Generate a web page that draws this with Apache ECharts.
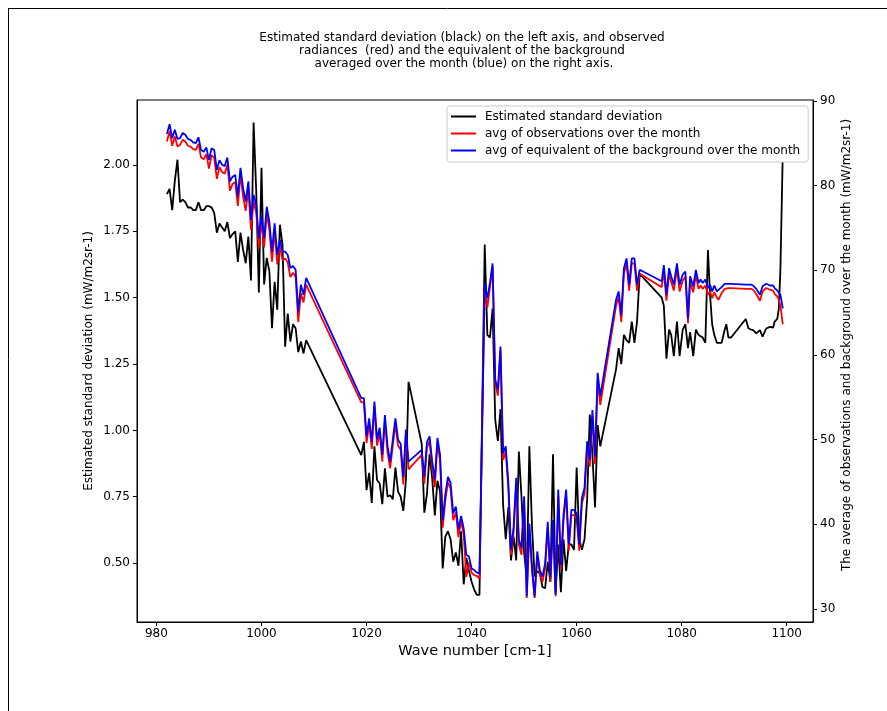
<!DOCTYPE html>
<html><head><meta charset="utf-8">
<script src="https://cdn.jsdelivr.net/npm/echarts@6/dist/echarts.min.js"></script>
<style>html,body{margin:0;padding:0;background:#fff}#c{width:887px;height:711px}</style>
</head><body><div id="c"></div>
<script>
// Wave numbers (cm-1) of the plotted channels
const wavenumber = [
  982.0, 982.5, 983.0, 983.5, 984.0, 984.5, 985.0, 985.5, 986.0, 986.5,
  987.0, 987.5, 988.0, 988.5, 989.0, 989.5, 990.0, 990.5, 991.0, 991.5,
  992.0, 992.5, 993.0, 993.5, 994.0, 994.5, 995.0, 995.5, 996.0, 996.5,
  997.0, 997.5, 998.0, 998.5, 999.0, 999.5, 1000.0, 1000.5, 1001.0, 1001.5,
  1002.0, 1002.5, 1003.0, 1003.5, 1004.0, 1004.5, 1005.0, 1005.5, 1006.0, 1006.5,
  1007.0, 1007.5, 1008.0, 1008.5,
  1019.0, 1019.5, 1020.0, 1020.5, 1021.0, 1021.5, 1022.0, 1022.5, 1023.0, 1023.5,
  1024.0, 1024.5, 1025.0, 1025.5, 1026.0, 1026.5, 1027.0, 1027.5, 1028.0,
  1030.5, 1031.0, 1031.5, 1032.0, 1032.5, 1033.0, 1033.5, 1034.0, 1034.5, 1035.0,
  1035.5, 1036.0, 1036.5, 1037.0, 1037.5, 1038.0, 1038.5, 1039.0, 1039.5, 1040.0,
  1040.5, 1041.0, 1041.5,
  1042.5, 1043.0, 1043.5, 1044.0, 1044.5, 1045.0, 1045.5, 1046.0, 1046.5, 1047.0,
  1047.5, 1048.0, 1048.5, 1049.0, 1049.5, 1050.0, 1050.5, 1051.0, 1051.5, 1052.0,
  1052.5, 1053.0, 1053.5, 1054.0, 1054.5, 1055.0, 1055.5, 1056.0, 1056.5, 1057.0,
  1057.5, 1058.0, 1058.5, 1059.0, 1059.5, 1060.0, 1060.5, 1061.0, 1061.5, 1062.0,
  1062.5, 1063.0, 1063.5, 1064.0, 1064.5,
  1067.5, 1068.0, 1068.5, 1069.0, 1069.5, 1070.0, 1070.5, 1071.0, 1071.5, 1072.0,
  1076.2, 1076.6, 1077.1, 1077.6, 1078.0, 1078.5, 1079.1, 1079.6, 1080.2, 1080.7,
  1081.2, 1081.6, 1082.2, 1082.7, 1083.2, 1083.6, 1084.0, 1084.5, 1085.0, 1085.4,
  1085.8, 1086.2, 1086.7, 1087.0, 1087.6, 1088.2, 1088.5, 1088.9, 1089.4,
  1092.2, 1092.7, 1093.2, 1093.6, 1094.2, 1094.9, 1095.4, 1096.1, 1096.8, 1097.4,
  1097.7, 1098.2, 1098.5, 1098.8, 1099.25
];
// Estimated standard deviation (left axis, mW/m2sr-1)
const stdDev = [
  1.89, 1.91, 1.83, 1.94, 2.02, 1.86, 1.87, 1.86, 1.84, 1.84,
  1.83, 1.83, 1.86, 1.83, 1.83, 1.845, 1.845, 1.84, 1.82, 1.745,
  1.78, 1.765, 1.75, 1.785, 1.725, 1.74, 1.75, 1.635, 1.745, 1.68,
  1.63, 1.73, 1.565, 2.16, 1.90, 1.52, 1.99, 1.55, 1.65, 1.60,
  1.385, 1.56, 1.455, 1.775, 1.70, 1.315, 1.44, 1.335, 1.40, 1.385,
  1.295, 1.335, 1.29, 1.34,
  0.907, 0.957, 0.775, 0.84, 0.727, 0.94, 0.813, 0.80, 0.722, 0.857,
  0.75, 0.756, 0.74, 0.86, 0.769, 0.75, 0.697, 0.813, 1.183,
  0.95, 0.69, 0.76, 0.91, 0.82, 0.68, 0.81, 0.77, 0.48, 0.60,
  0.62, 0.59, 0.505, 0.54, 0.49, 0.62, 0.42, 0.52, 0.47, 0.43,
  0.40, 0.38, 0.38,
  1.70, 1.36, 1.35, 1.46, 1.04, 0.96, 1.08, 0.72, 0.59, 0.71,
  0.51, 0.60, 0.51, 0.92, 0.75, 0.54, 0.44, 0.94, 0.64, 0.45,
  0.47, 0.46, 0.41, 0.405, 0.505, 0.43, 0.91, 0.39, 0.57, 0.39,
  0.59, 0.47, 0.57, 0.57, 0.55, 0.86, 0.59, 0.55, 0.59, 0.74,
  1.06, 0.91, 0.71, 1.02, 0.94,
  1.23, 1.31, 1.25, 1.36, 1.34, 1.33, 1.41, 1.33, 1.41, 1.59,
  1.50, 1.47, 1.27, 1.38, 1.36, 1.28, 1.41, 1.28, 1.38, 1.40,
  1.31, 1.37, 1.28, 1.38, 1.36, 1.355, 1.35, 1.33, 1.68, 1.51,
  1.40, 1.36, 1.33, 1.33, 1.33, 1.38, 1.40, 1.35, 1.35,
  1.42, 1.385, 1.38, 1.378, 1.366, 1.378, 1.353, 1.384, 1.39, 1.387,
  1.41, 1.42, 1.46, 1.61, 2.05
];
// avg of observations over the month (right axis)
const obsAvg = [
  85.2, 86.45, 84.7, 85.8, 84.6, 84.8, 85.4, 85.2, 84.7, 84.6,
  84.3, 84.2, 84.9, 83.3, 83.1, 83.7, 82.0, 83.6, 83.3, 80.8,
  82.2, 81.6, 81.4, 82.5, 79.4, 80.2, 80.4, 77.6, 81.3, 78.7,
  77.0, 79.6, 74.8, 78.1, 76.8, 72.6, 75.7, 72.7, 76.7, 74.8,
  71.0, 74.7, 70.7, 72.8, 71.2, 71.4, 70.9, 69.2, 69.7, 69.2,
  63.9, 67.3, 66.2, 68.3,
  54.4, 54.4, 49.6, 51.9, 48.9, 54.0, 49.3, 50.8, 47.4, 52.3,
  48.5, 46.6, 49.3, 51.9, 49.3, 48.8, 44.7, 50.6, 46.5,
  48.2, 44.8, 49.1, 49.8, 46.6, 44.4, 49.6, 47.5, 39.6, 42.8,
  45.0, 44.2, 40.5, 41.4, 38.5, 40.4, 38.8, 33.8, 35.5, 34.3,
  34.0, 33.9, 33.6,
  68.0, 65.6, 68.0, 70.4, 56.6, 55.2, 60.5, 47.6, 48.6, 44.2,
  36.4, 39.0, 44.8, 37.6, 36.4, 42.7, 31.3, 39.5, 34.5, 31.3,
  36.2, 34.1, 33.2, 34.8, 39.7, 33.2, 40.0, 31.5, 43.4, 34.7,
  40.5, 43.5, 36.9, 41.1, 41.1, 40.7, 36.9, 42.5, 43.6, 49.1,
  46.8, 52.8, 47.1, 57.1, 54.1,
  65.8, 66.8, 63.9, 69.6, 70.8, 67.6, 70.8, 70.8, 67.6, 69.6,
  68.0, 69.9, 66.4, 69.6, 68.6, 67.6, 70.2, 67.5, 68.8, 69.2,
  63.75, 68.6, 67.4, 69.4, 67.8, 68.2, 67.8, 68.2, 67.1, 67.5,
  66.7, 67.4, 66.8, 66.5, 67.3, 67.8, 67.9, 67.9, 67.9,
  67.8, 67.8, 67.8, 67.7, 67.2, 66.4, 67.5, 67.9, 67.7, 67.6,
  67.2, 66.9, 66.5, 65.8, 63.6
];
// avg of equivalent of the background over the month (right axis)
const bgAvg = [
  86.1, 87.25, 85.6, 86.6, 85.5, 85.6, 86.2, 86.0, 85.5, 85.4,
  85.1, 85.0, 85.7, 84.2, 84.0, 84.5, 83.0, 84.4, 84.2, 81.85,
  83.0, 82.45, 82.3, 83.3, 80.5, 81.05, 81.25, 78.7, 82.1, 79.7,
  78.1, 80.5, 75.95, 78.9, 77.7, 73.8, 76.5, 73.8, 77.5, 75.75,
  72.2, 75.55, 71.8, 73.6, 72.2, 72.2, 71.8, 70.25, 70.5, 70.05,
  65.1, 68.3, 67.1, 69.1,
  54.9, 54.9, 50.4, 52.5, 49.7, 54.5, 50.0, 51.4, 48.2, 52.9,
  49.2, 47.4, 50.0, 52.5, 50.0, 49.5, 45.6, 51.2, 47.4,
  48.8, 45.6, 49.7, 50.4, 47.4, 45.3, 50.2, 48.2, 40.5, 43.5,
  45.6, 44.9, 41.3, 42.1, 39.4, 41.0, 39.5, 36.4, 36.2, 34.8,
  34.6, 34.3, 34.2,
  68.5, 66.7, 68.5, 70.8, 57.1, 55.9, 61.0, 48.4, 49.2, 44.9,
  37.0, 39.7, 45.5, 38.2, 37.2, 43.3, 31.5, 40.1, 35.0, 31.5,
  36.8, 34.6, 33.8, 35.4, 40.3, 33.7, 40.5, 31.7, 44.1, 35.2,
  41.1, 44.1, 37.6, 41.7, 41.7, 41.3, 37.6, 43.1, 44.3, 49.8,
  47.6, 53.5, 48.0, 57.9, 55.1,
  66.5, 67.5, 64.7, 70.25, 71.4, 68.3, 71.4, 71.4, 68.3, 70.05,
  68.7, 70.6, 67.1, 70.25, 69.3, 68.3, 70.8, 68.3, 69.5, 69.85,
  64.3, 69.3, 68.1, 70.05, 68.5, 68.9, 68.5, 68.9, 67.9, 68.3,
  67.5, 68.2, 67.5, 67.3, 68.0, 68.4, 68.5, 68.4, 68.4,
  68.3, 68.3, 68.3, 68.2, 67.8, 67.1, 68.1, 68.4, 68.2, 68.2,
  67.9, 67.6, 67.4, 67.1, 65.5
];
const seriesNames = [
  'Estimated standard deviation',
  'avg of observations over the month',
  'avg of equivalent of the background over the month'
];
const xTicks = [980, 1000, 1020, 1040, 1060, 1080, 1100];
const leftTicks = [0.5, 0.75, 1.0, 1.25, 1.5, 1.75, 2.0];
const rightTicks = [30, 40, 50, 60, 70, 80, 90];
const titleText = 'Estimated standard deviation (black) on the left axis, and observed\nradiances  (red) and the equivalent of the background\n averaged over the month (blue) on the right axis.';
const xName = 'Wave number [cm-1]';
const leftName = 'Estimated standard deviation (mW/m2sr-1)';
const rightName = 'The average of observations and background over the month (mW/m2sr-1)';

const FONT = "'DejaVu Sans', sans-serif";
const pairs = v => wavenumber.map((x, i) => [x, v[i]]);

const chart = echarts.init(document.getElementById('c'), null, {renderer: 'canvas'});
chart.setOption({
  animation: false,
  backgroundColor: '#fff',
  grid: {left: 137, right: 74, top: 100, bottom: 89, show: true, borderColor: '#000', borderWidth: 1, backgroundColor: 'transparent'},
  xAxis: {
    type: 'value', min: 976.3, max: 1105.0,
    splitLine: {show: false},
    axisLine: {show: true, onZero: false, lineStyle: {color: '#000', width: 1}},
    axisTick: {show: true, length: 4, customValues: xTicks, lineStyle: {color: '#000'}},
    axisLabel: {customValues: xTicks, margin: 6, color: '#000', fontFamily: FONT, fontSize: 12,
      formatter: v => String(v)}
  },
  yAxis: [{
    type: 'value', min: 0.278, max: 2.245, position: 'left',
    splitLine: {show: false},
    axisLine: {show: true, lineStyle: {color: '#000', width: 1}},
    axisTick: {show: true, length: 4, customValues: leftTicks, lineStyle: {color: '#000'}},
    axisLabel: {customValues: leftTicks, margin: 7, color: '#000', fontFamily: FONT, fontSize: 12,
      formatter: v => v.toFixed(2)}
  }, {
    type: 'value', min: 28.47, max: 90.1, position: 'right',
    splitLine: {show: false},
    axisLine: {show: true, lineStyle: {color: '#000', width: 1}},
    axisTick: {show: true, length: 4, customValues: rightTicks, lineStyle: {color: '#000'}},
    axisLabel: {customValues: rightTicks, margin: 7, color: '#000', fontFamily: FONT, fontSize: 12,
      formatter: v => String(v)}
  }],
  legend: {
    orient: 'vertical', left: 447, top: 106,
    data: seriesNames,
    icon: 'rect', itemWidth: 25, itemHeight: 2, itemGap: 4,
    backgroundColor: '#fff', borderColor: '#cccccc', borderWidth: 1, borderRadius: 3,
    padding: [4, 8, 5, 4],
    textStyle: {fontFamily: FONT, fontSize: 12, color: '#000', lineHeight: 13, padding: [0, 0, 0, 4]},
    z: 20
  },
  series: [
    {name: seriesNames[0], type: 'line', yAxisIndex: 0, data: pairs(stdDev), showSymbol: false,
      lineStyle: {color: '#000000', width: 1.8}, itemStyle: {color: '#000000'}, z: 2},
    {name: seriesNames[1], type: 'line', yAxisIndex: 1, data: pairs(obsAvg), showSymbol: false,
      lineStyle: {color: '#ff0000', width: 1.8}, itemStyle: {color: '#ff0000'}, z: 3},
    {name: seriesNames[2], type: 'line', yAxisIndex: 1, data: pairs(bgAvg), showSymbol: false,
      lineStyle: {color: '#0000ff', width: 1.8}, itemStyle: {color: '#0000ff'}, z: 4}
  ],
  graphic: [
    {type: 'line', shape: {x1: 8, y1: 8.5, x2: 887, y2: 8.5}, style: {stroke: '#000', lineWidth: 1}},
    {type: 'line', shape: {x1: 8.5, y1: 8, x2: 8.5, y2: 711}, style: {stroke: '#000', lineWidth: 1}},
    {type: 'text', x: 462, y: 31, style: {text: titleText, align: 'center', verticalAlign: 'top',
      font: "12px 'DejaVu Sans', sans-serif", lineHeight: 13, fill: '#000'}},
    {type: 'text', x: 475, y: 651, style: {text: xName, align: 'center', verticalAlign: 'middle',
      font: "14.5px 'DejaVu Sans', sans-serif", fill: '#000'}},
    {type: 'text', x: 89, y: 361, rotation: Math.PI / 2, style: {text: leftName, align: 'center', verticalAlign: 'middle',
      font: "12px 'DejaVu Sans', sans-serif", fill: '#000'}},
    {type: 'text', x: 847, y: 345, rotation: Math.PI / 2, style: {text: rightName, align: 'center', verticalAlign: 'middle',
      font: "12px 'DejaVu Sans', sans-serif", fill: '#000'}}
  ]
});
</script>
</body></html>
